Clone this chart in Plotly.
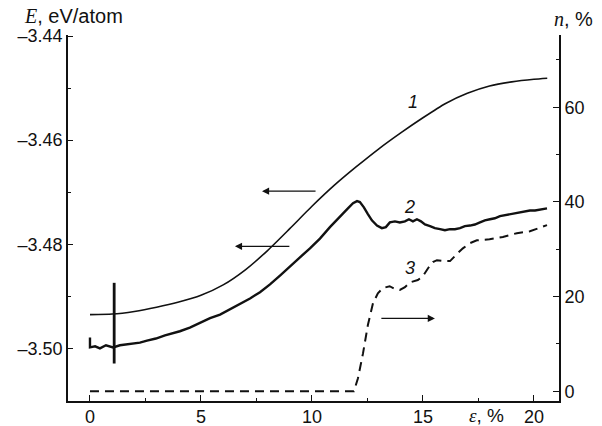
import plotly.graph_objects as go

# ---- data ----
strain_1 = [0, 1, 2, 3, 4, 5, 6, 7, 8, 9, 10, 11, 12, 13, 14, 15, 16, 17, 18, 19, 20, 20.6]
energy_1 = [-3.4935, -3.4934, -3.4929, -3.4921, -3.4911, -3.4898, -3.4878, -3.4849, -3.4812,
            -3.4770, -3.4727, -3.4687, -3.4651, -3.4617, -3.4586, -3.4557, -3.4530, -3.4510,
            -3.4496, -3.4488, -3.4483, -3.4481]

strain_2 = [0, 0, 0.23, 0.45, 0.72, 1.04, 1.35, 1.80, 2.25, 2.57, 2.97, 3.38, 4.05, 4.50, 5.00,
            5.41, 5.86, 6.31, 6.76, 7.21, 7.66, 8.11, 8.56, 9.01, 9.46, 9.91, 10.36, 10.81, 11.26,
            11.62, 11.85, 12.03, 12.16, 12.34, 12.52, 12.70, 12.93, 13.15, 13.33, 13.51, 13.74,
            13.96, 14.19, 14.37, 14.55, 14.73, 14.91, 15.09, 15.32, 15.54, 15.77, 15.99, 16.22,
            16.44, 16.67, 16.89, 17.12, 17.34, 17.57, 17.79, 18.02, 18.24, 18.47, 18.69, 18.92,
            19.14, 19.37, 19.59, 19.82, 20.05, 20.27, 20.59]
energy_2 = [-3.4979, -3.4998, -3.4996, -3.5000, -3.4994, -3.4998, -3.4994, -3.4992, -3.4989,
            -3.4985, -3.4981, -3.4975, -3.4967, -3.4960, -3.4950, -3.4942, -3.4935, -3.4925,
            -3.4915, -3.4904, -3.4892, -3.4877, -3.4860, -3.4842, -3.4825, -3.4808, -3.4789,
            -3.4767, -3.4748, -3.4731, -3.4721, -3.4717, -3.4719, -3.4729, -3.4742, -3.4754,
            -3.4764, -3.4769, -3.4767, -3.4758, -3.4756, -3.4758, -3.4756, -3.4752, -3.4756,
            -3.4752, -3.4756, -3.4762, -3.4765, -3.4769, -3.4771, -3.4773, -3.4771, -3.4771,
            -3.4769, -3.4765, -3.4764, -3.4762, -3.4758, -3.4754, -3.4752, -3.4750, -3.4746,
            -3.4744, -3.4742, -3.4740, -3.4738, -3.4737, -3.4735, -3.4735, -3.4733, -3.4731]

spike_strain = [1.09, 1.09]
spike_energy = [-3.4874, -3.5029]

strain_3 = [0, 11.89, 12.07, 12.30, 12.52, 12.75, 12.97, 13.20, 13.50, 13.74, 13.96, 14.19,
            14.41, 14.77, 15.00, 15.23, 15.45, 15.63, 15.95, 16.22, 16.53, 16.80, 17.12, 17.43,
            18.00, 18.60, 19.23, 19.82, 20.59]
fraction_3 = [0, 0, 2.7, 8.0, 14.0, 18.6, 20.7, 21.8, 22.2, 21.6, 21.4, 22.0, 23.0, 23.5, 24.3,
              26.0, 27.3, 27.7, 27.5, 27.5, 29.0, 30.2, 31.3, 31.9, 32.1, 32.6, 33.4, 33.8, 35.1]

x_ticks = [0, 5, 10, 15, 20]
e_ticks = [-3.50, -3.48, -3.46, -3.44]
e_tick_text = ["\u20133.50", "\u20133.48", "\u20133.46", "\u20133.44"]
n_ticks = [0, 20, 40, 60]

# arrows: (tail strain, head strain, level, axis)
arrows = [(10.23, 7.75, -3.4698, "y"), (9.05, 6.53, -3.4804, "y"), (13.06, 15.54, 15.4, "y2")]
# curve labels: (text, strain, level, axis)
curve_labels = [("1", 14.55, -3.4526, "y"), ("2", 14.4, -3.4728, "y"), ("3", 14.4, 26.0, "y2")]

SANS = "Liberation Sans, Arial, sans-serif"
INK = "#111111"

fig = go.Figure()
fig.add_trace(go.Scatter(x=strain_1, y=energy_1, mode="lines", line=dict(color=INK, width=1.6, shape="spline", smoothing=0.6), showlegend=False))
fig.add_trace(go.Scatter(x=strain_2, y=energy_2, mode="lines", line=dict(color=INK, width=2.4), showlegend=False))
fig.add_trace(go.Scatter(x=spike_strain, y=spike_energy, mode="lines", line=dict(color=INK, width=2.8), showlegend=False))
fig.add_trace(go.Scatter(x=strain_3, y=fraction_3, mode="lines", yaxis="y2", line=dict(color=INK, width=2, dash="9px,6px"), showlegend=False))

annotations = []
for tail, head, lvl, ax in arrows:
    annotations.append(dict(x=head, y=lvl, ax=tail, ay=lvl, xref="x", yref=ax, axref="x", ayref=ax,
                            text="", showarrow=True, arrowhead=2, arrowsize=1.1, arrowwidth=1.3, arrowcolor=INK))
for txt, sx, lvl, ax in curve_labels:
    annotations.append(dict(x=sx, y=lvl, xref="x", yref=ax, text="<i>" + txt + "</i>", showarrow=False,
                            font=dict(family=SANS, size=18, color=INK)))

annotations.append(dict(x=-0.0937, y=1.052, xref="paper", yref="paper", xanchor="left", yanchor="middle",
                        text='<span style="font-family:Liberation Serif"><i>E</i></span>, eV/atom',
                        showarrow=False, font=dict(family=SANS, size=20, color=INK)))
annotations.append(dict(x=0.9857, y=1.044, xref="paper", yref="paper", xanchor="left", yanchor="middle",
                        text='<span style="font-family:Liberation Serif"><i>n</i></span>, %',
                        showarrow=False, font=dict(family=SANS, size=20, color=INK)))
annotations.append(dict(x=0.8126, y=-0.039, xref="paper", yref="paper", xanchor="left", yanchor="middle",
                        text='<span style="font-family:Liberation Serif"><i>ε</i></span>, %',
                        showarrow=False, font=dict(family=SANS, size=19, color=INK)))

fig.update_layout(
    width=602, height=426,
    margin=dict(l=68, r=43, t=35, b=25, pad=0),
    paper_bgcolor="white", plot_bgcolor="white",
    font=dict(family=SANS, size=18, color=INK),
    xaxis=dict(range=[-0.99, 21.13], tickvals=x_ticks, ticks="inside", ticklen=6, tickwidth=1.3,
               tickcolor=INK, showline=True, linecolor=INK, linewidth=1.8, showgrid=False, zeroline=False,
               automargin=False, ticklabelstandoff=-2,
               minor=dict(dtick=2.5, tick0=0, ticks="inside", ticklen=3, tickcolor=INK, tickwidth=1.3, showgrid=False)),
    yaxis=dict(range=[-3.5101, -3.4398], tickvals=e_ticks, ticktext=e_tick_text, ticks="inside", ticklen=5,
               tickwidth=1.3, tickcolor=INK, showline=True, linecolor=INK, linewidth=1.8, showgrid=False,
               zeroline=False, automargin=False,
               minor=dict(dtick=0.01, tick0=-3.5, ticks="inside", ticklen=3, tickcolor=INK, tickwidth=1.3, showgrid=False)),
    yaxis2=dict(range=[-2.05, 75.26], tickvals=n_ticks, overlaying="y", side="right", anchor="x",
                ticks="inside", ticklen=6, tickwidth=1.3, tickcolor=INK, showline=True, linecolor=INK,
                linewidth=1.8, showgrid=False, zeroline=False, automargin=False,
                minor=dict(dtick=10, tick0=0, ticks="inside", ticklen=3, tickcolor=INK, tickwidth=1.3, showgrid=False)),
    annotations=annotations,
)

fig.write_html("out.html", config={"displayModeBar": False},
               post_script="document.body.style.margin='0px';")
